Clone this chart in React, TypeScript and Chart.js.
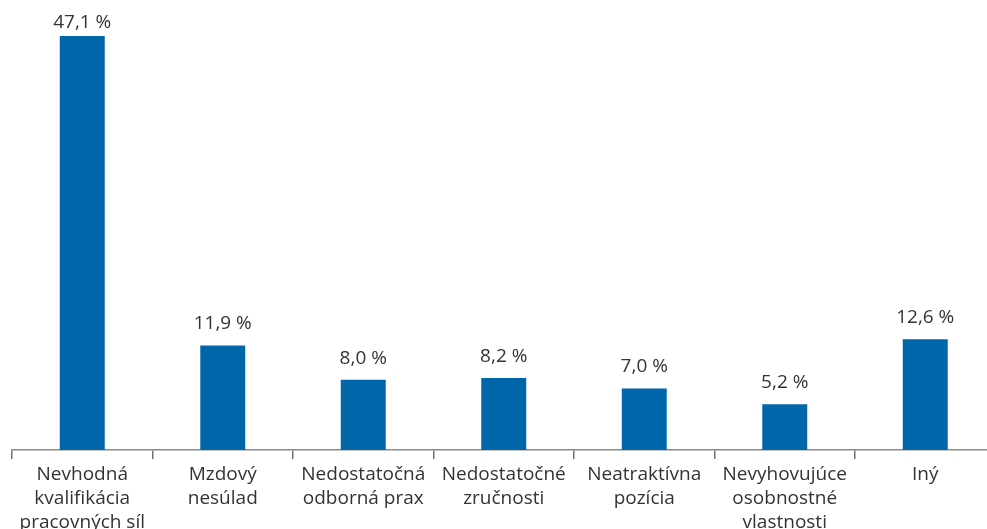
import React, { useEffect, useRef } from "react";
import { Chart, registerables } from "chart.js";

Chart.register(...registerables);

const categories: string[][] = [
  ["Nevhodná", "kvalifikácia", "pracovných síl"],
  ["Mzdový", "nesúlad"],
  ["Nedostatočná", "odborná prax"],
  ["Nedostatočné", "zručnosti"],
  ["Neatraktívna", "pozícia"],
  ["Nevyhovujúce", "osobnostné", "vlastnosti"],
  ["Iný"],
];
const values: number[] = [47.1, 11.9, 8.0, 8.2, 7.0, 5.2, 12.6];

const BAR_COLOR = "#0066AA";
const TEXT_COLOR = "#333333";
const FONT = "'Open Sans', sans-serif";

const fmt = (v: number) => v.toFixed(1).replace(".", ",") + " %";

const valueLabels = {
  id: "valueLabels",
  afterDatasetsDraw(chart: any) {
    const ctx = chart.ctx;
    const meta = chart.getDatasetMeta(0);
    ctx.save();
    ctx.font = `19px ${FONT}`;
    ctx.fillStyle = TEXT_COLOR;
    ctx.textAlign = "center";
    ctx.textBaseline = "alphabetic";
    meta.data.forEach((bar: any, i: number) => {
      const y = Math.max(bar.y - 16, 28);
      ctx.fillText(fmt(values[i]), bar.x, y);
    });
    ctx.restore();
  },
};

export default function App() {
  const ref = useRef<HTMLCanvasElement>(null);
  useEffect(() => {
    const canvas = ref.current!;
    const chart = new Chart(canvas, {
      type: "bar",
      data: {
        labels: categories,
        datasets: [
          {
            data: values,
            backgroundColor: BAR_COLOR,
            barPercentage: 0.32,
            categoryPercentage: 1,
          },
        ],
      },
      options: {
        responsive: false,
        animation: false,
        devicePixelRatio: 1,
        layout: { padding: { left: 12, right: 4.5, top: 10.5, bottom: 0 } },
        plugins: {
          legend: { display: false },
          tooltip: { enabled: false },
        },
        scales: {
          y: {
            display: false,
            min: 0,
            max: 50,
          },
          x: {
            offset: true,
            border: { display: true, color: "#8a8a8a", width: 1.5 },
            grid: {
              offset: true,
              drawOnChartArea: false,
              drawTicks: true,
              tickLength: 9,
              color: "#707070",
              lineWidth: 1.5,
            },
            ticks: {
              color: TEXT_COLOR,
              font: { family: FONT, size: 19, lineHeight: 24 / 19 },
              padding: 4,
              maxRotation: 0,
              autoSkip: false,
            },
            afterFit(scale: any) {
              scale.height = 90;
            },
          },
        },
      },
      plugins: [valueLabels],
    });
    return () => chart.destroy();
  }, []);
  return (
    <div
      style={{
        position: "fixed",
        left: 0,
        top: 0,
        width: 987,
        height: 529,
        overflow: "hidden",
        background: "#fff",
      }}
    >
      <canvas ref={ref} width={1000} height={540} style={{ display: "block" }} />
    </div>
  );
}
